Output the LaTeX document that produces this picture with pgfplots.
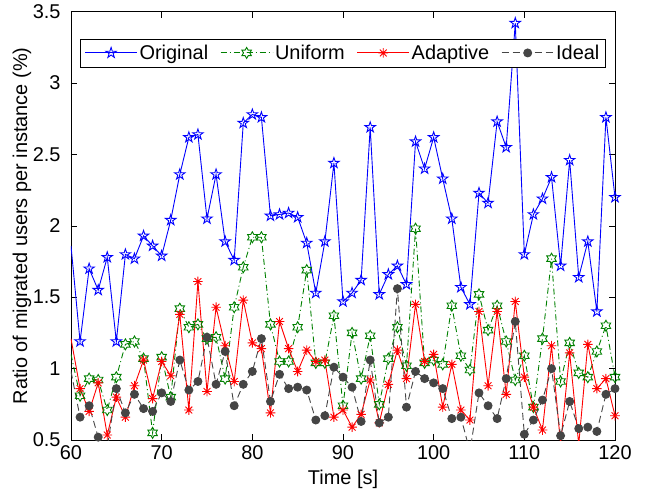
\documentclass[border=0pt]{standalone}
\usepackage{pgfplots}
\pgfplotsset{compat=1.18}
\usepackage{pgfplotstable}
\usepackage{fontspec}
\setmainfont{Liberation Sans}
\usetikzlibrary{calc}

\pgfdeclareplotmark{pentagram}{%
 \pgfpathmoveto{\pgfpointpolar{90}{\pgfplotmarksize}}%
 \pgfpathlineto{\pgfpointpolar{126}{0.382\pgfplotmarksize}}%
 \pgfpathlineto{\pgfpointpolar{162}{\pgfplotmarksize}}%
 \pgfpathlineto{\pgfpointpolar{198}{0.382\pgfplotmarksize}}%
 \pgfpathlineto{\pgfpointpolar{234}{\pgfplotmarksize}}%
 \pgfpathlineto{\pgfpointpolar{270}{0.382\pgfplotmarksize}}%
 \pgfpathlineto{\pgfpointpolar{306}{\pgfplotmarksize}}%
 \pgfpathlineto{\pgfpointpolar{342}{0.382\pgfplotmarksize}}%
 \pgfpathlineto{\pgfpointpolar{18}{\pgfplotmarksize}}%
 \pgfpathlineto{\pgfpointpolar{54}{0.382\pgfplotmarksize}}%
 \pgfpathclose
 \pgfusepathqstroke}

\pgfdeclareplotmark{hexagram}{%
 \pgfpathmoveto{\pgfpointpolar{90}{\pgfplotmarksize}}%
 \pgfpathlineto{\pgfpointpolar{120}{0.577\pgfplotmarksize}}%
 \pgfpathlineto{\pgfpointpolar{150}{\pgfplotmarksize}}%
 \pgfpathlineto{\pgfpointpolar{180}{0.577\pgfplotmarksize}}%
 \pgfpathlineto{\pgfpointpolar{210}{\pgfplotmarksize}}%
 \pgfpathlineto{\pgfpointpolar{240}{0.577\pgfplotmarksize}}%
 \pgfpathlineto{\pgfpointpolar{270}{\pgfplotmarksize}}%
 \pgfpathlineto{\pgfpointpolar{300}{0.577\pgfplotmarksize}}%
 \pgfpathlineto{\pgfpointpolar{330}{\pgfplotmarksize}}%
 \pgfpathlineto{\pgfpointpolar{0}{0.577\pgfplotmarksize}}%
 \pgfpathlineto{\pgfpointpolar{30}{\pgfplotmarksize}}%
 \pgfpathlineto{\pgfpointpolar{60}{0.577\pgfplotmarksize}}%
 \pgfpathclose
 \pgfusepathqstroke}

\pgfdeclareplotmark{ast8}{%
 \pgfpathmoveto{\pgfqpoint{0pt}{\pgfplotmarksize}}\pgfpathlineto{\pgfqpoint{0pt}{-\pgfplotmarksize}}%
 \pgfpathmoveto{\pgfqpoint{\pgfplotmarksize}{0pt}}\pgfpathlineto{\pgfqpoint{-\pgfplotmarksize}{0pt}}%
 \pgfpathmoveto{\pgfqpoint{0.707\pgfplotmarksize}{0.707\pgfplotmarksize}}\pgfpathlineto{\pgfqpoint{-0.707\pgfplotmarksize}{-0.707\pgfplotmarksize}}%
 \pgfpathmoveto{\pgfqpoint{-0.707\pgfplotmarksize}{0.707\pgfplotmarksize}}\pgfpathlineto{\pgfqpoint{0.707\pgfplotmarksize}{-0.707\pgfplotmarksize}}%
 \pgfusepathqstroke}

\definecolor{mgreen}{rgb}{0,0.5,0}
\definecolor{mgray}{rgb}{0.27,0.27,0.27}

\pgfplotstableread{
x y
60 1.86
61 1.19
62 1.70
63 1.55
64 1.78
65 1.19
66 1.80
67 1.77
68 1.93
69 1.86
70 1.79
71 2.04
72 2.36
73 2.62
74 2.64
75 2.05
76 2.36
77 1.89
78 1.76
79 2.72
80 2.78
81 2.76
82 2.07
83 2.08
84 2.09
85 2.06
86 1.88
87 1.53
88 1.89
89 2.44
90 1.47
91 1.53
92 1.62
93 2.69
94 1.52
95 1.66
96 1.72
97 1.59
98 2.59
99 2.40
100 2.62
101 2.33
102 2.05
103 1.57
104 1.45
105 2.23
106 2.16
107 2.73
108 2.55
109 3.42
110 1.80
111 2.08
112 2.19
113 2.34
114 1.72
115 2.46
116 1.64
117 1.89
118 1.40
119 2.76
120 2.20
}\original

\pgfplotstableread{
x y
60 1.10
61 0.81
62 0.93
63 0.92
64 0.71
65 0.94
66 1.17
67 1.19
68 1.07
69 0.55
70 1.08
71 0.80
72 1.42
73 1.29
74 1.31
75 1.21
76 1.22
77 0.93
78 1.43
79 1.71
80 1.92
81 1.92
82 1.31
83 1.05
84 1.05
85 1.29
86 1.69
87 1.04
88 1.04
89 1.37
90 0.74
91 1.25
92 0.93
93 1.23
94 0.75
95 1.07
96 1.29
97 1.02
98 1.98
99 1.04
100 1.06
101 1.03
102 1.44
103 1.09
104 0.99
105 1.52
106 1.27
107 1.44
108 1.19
109 0.92
110 1.09
111 0.73
112 1.21
113 1.77
114 0.91
115 1.18
116 0.97
117 0.94
118 1.12
119 1.30
120 0.94
}\uniform

\pgfplotstableread{
x y
60 1.21
61 0.86
62 0.70
63 0.90
64 0.535
65 0.80
66 0.66
67 0.88
68 1.06
69 0.79
70 1.05
71 0.95
72 1.38
73 0.71
74 1.61
75 0.84
76 1.43
77 1.16
78 0.91
79 1.48
80 1.18
81 1.14
82 0.69
83 1.33
84 1.14
85 0.98
86 1.13
87 1.05
88 1.06
89 0.66
90 0.71
91 0.59
92 0.68
93 0.92
94 0.62
95 0.89
96 1.13
97 0.93
98 1.45
99 1.05
100 1.10
101 0.73
102 1.03
103 0.71
104 0.64
105 1.40
106 0.88
107 1.40
108 0.82
109 1.47
110 0.94
111 0.73
112 0.57
113 1.16
114 0.47
115 1.11
116 0.47
117 1.17
118 0.86
119 0.93
120 0.67
}\adaptive

\pgfplotstableread{
x y
60 0.98
61 0.66
62 0.74
63 0.52
64 0.45
65 0.86
66 0.69
67 0.82
68 0.72
69 0.70
70 0.83
71 0.77
72 1.06
73 0.85
74 0.91
75 1.22
76 0.89
77 1.12
78 0.74
79 0.89
80 0.98
81 1.21
82 0.77
83 0.96
84 0.86
85 0.87
86 0.85
87 0.64
88 0.67
89 1.01
90 0.94
91 0.87
92 0.63
93 1.06
94 0.62
95 0.66
96 1.56
97 0.73
98 0.98
99 0.93
100 0.90
101 0.86
102 0.65
103 0.66
104 0.42
105 0.83
106 0.74
107 0.65
108 0.93
109 1.33
110 0.54
111 0.64
112 0.78
113 1.00
114 0.53
115 0.77
116 0.58
117 0.59
118 0.56
119 0.82
120 0.86
}\ideal

\begin{document}
\begin{tikzpicture}
\begin{axis}[
  scale only axis,
  width=544bp, height=428.3bp,
  xmin=60, xmax=120, ymin=0.5, ymax=3.5,
  xtick={60,70,...,120},
  ytick={0.5,1,...,3.5},
  yticklabels={0.5,1,1.5,2,2.5,3,3.5},
  tick align=inside,
  major tick length=6bp,
  tick style={black, line width=0.6bp},
  axis line style={black, line width=0.8bp},
  every tick label/.append style={font=\fontsize{20}{24}\selectfont},
  /pgf/number format/assume math mode=true,
  xticklabel style={yshift=-2bp},
  yticklabel style={xshift=-7bp},
  xlabel={Time [s]},
  ylabel={Ratio of migrated users per instance (\%)},
  every axis x label/.style={at={(axis description cs:0.5,0)}, anchor=center, yshift=-39bp, font=\fontsize{20}{24}\selectfont},
  every axis y label/.style={at={(axis description cs:0,0.5)}, xshift=-49bp, anchor=center, rotate=90, font=\fontsize{20}{24}\selectfont},
  legend columns=4,
  legend style={at={(0.5,0.937)}, anchor=north, draw=black, line width=0.6bp,
    font=\fontsize{20}{24}\selectfont, inner xsep=4bp, inner ysep=4bp,
    /tikz/every even column/.append style={column sep=10bp}},
  legend image code/.code={\draw[mark repeat=2,mark phase=2] plot coordinates {(0bp,0bp) (26bp,0bp) (52bp,0bp)};},
  every axis plot/.append style={line width=0.9bp},
]
\addplot[blue, mark=pentagram, mark size=5.5bp, mark phase=2, mark options={solid}] table[x=x,y=y] {\original};
\addlegendentry{Original}
\addplot[mgreen, dash pattern=on 6bp off 3bp on 1bp off 3bp, mark=hexagram, mark size=5.5bp, mark phase=2, mark options={solid}] table[x=x,y=y] {\uniform};
\addlegendentry{Uniform}
\addplot[red, mark=ast8, mark size=4.8bp, mark phase=2, mark options={solid}] table[x=x,y=y] {\adaptive};
\addlegendentry{Adaptive}
\addplot[mgray, dash pattern=on 7bp off 4bp, mark=*, mark size=4bp, mark phase=2, mark options={solid, fill=mgray, draw=mgray}] table[x=x,y=y] {\ideal};
\addlegendentry{Ideal}
\end{axis}
\pgfresetboundingbox
\path ($(current axis.south west)+(-71bp,-51bp)$) rectangle ($(current axis.north east)+(34bp,11.7bp)$);
\end{tikzpicture}
\end{document}
